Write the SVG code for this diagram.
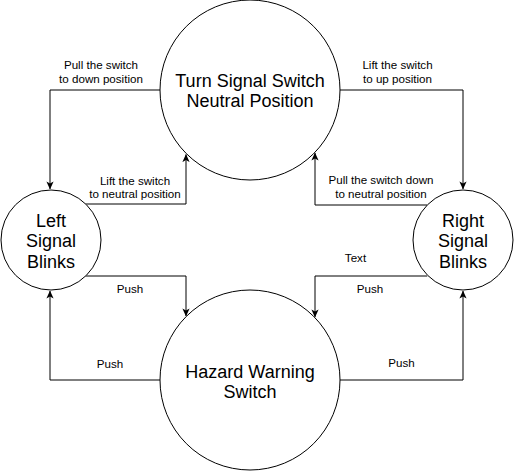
<svg xmlns="http://www.w3.org/2000/svg" width="514" height="471" viewBox="0 0 514 471">
<style>
.node{fill:#fff;stroke:#000;stroke-width:1}
.nt{font-family:"Liberation Sans",Arial,sans-serif;font-size:18px;text-anchor:middle;fill:#000}
.lb{font-family:"Liberation Sans",Arial,sans-serif;font-size:11.6px;text-anchor:middle;fill:#000}
.edge{fill:none;stroke:#000;stroke-width:1}
</style>
<defs>
<marker id="arr" viewBox="0 0 10 10" refX="9.5" refY="5" markerWidth="8" markerHeight="8" markerUnits="userSpaceOnUse" orient="auto">
<path d="M0,0.5 L10,5 L0,9.5 L2.5,5 Z" fill="#000"/>
</marker>
</defs>
<rect width="514" height="471" fill="#fff"/>
<g id="connectors">
<path class="edge" d="M160,90 H50 V189" marker-end="url(#arr)"/>
<path class="edge" d="M85.7,204 H186 V154.5" marker-end="url(#arr)"/>
<path class="edge" d="M340,90 H463 V189" marker-end="url(#arr)"/>
<path class="edge" d="M427.3,205 H315 V153" marker-end="url(#arr)"/>
<path class="edge" d="M85.7,276 H186 V316" marker-end="url(#arr)"/>
<path class="edge" d="M160,380 H50 V291" marker-end="url(#arr)"/>
<path class="edge" d="M427.3,276 H315 V317" marker-end="url(#arr)"/>
<path class="edge" d="M340,380 H463 V291" marker-end="url(#arr)"/>
<text class="lb" x="101" y="69">Pull the switch</text>
<text class="lb" x="101" y="83">to down position</text>
<text class="lb" x="135" y="185">Lift the switch</text>
<text class="lb" x="135" y="198">to neutral position</text>
<text class="lb" x="397.5" y="69">Lift the switch</text>
<text class="lb" x="397.5" y="83">to up position</text>
<text class="lb" x="381" y="184">Pull the switch down</text>
<text class="lb" x="381" y="198">to neutral position</text>
<text class="lb" x="130" y="293">Push</text>
<text class="lb" x="110" y="368">Push</text>
<text class="lb" x="355.5" y="262">Text</text>
<text class="lb" x="370" y="293">Push</text>
<text class="lb" x="401.5" y="367">Push</text>
</g>
<g id="turn-signal-switch">
<circle class="node" cx="250" cy="90" r="90"/>
<text class="nt" x="250" y="87">Turn Signal Switch</text>
<text class="nt" x="250" y="107">Neutral Position</text>
</g>
<g id="left-signal-blinks">
<circle class="node" cx="51" cy="240" r="50"/>
<text class="nt" x="51" y="227">Left</text>
<text class="nt" x="51" y="247">Signal</text>
<text class="nt" x="51" y="268">Blinks</text>
</g>
<g id="right-signal-blinks">
<circle class="node" cx="463" cy="240" r="50"/>
<text class="nt" x="463" y="227">Right</text>
<text class="nt" x="463" y="247">Signal</text>
<text class="nt" x="463" y="268">Blinks</text>
</g>
<g id="hazard-warning-switch">
<circle class="node" cx="250" cy="380" r="90"/>
<text class="nt" x="250" y="378">Hazard Warning</text>
<text class="nt" x="250" y="398">Switch</text>
</g>
</svg>
